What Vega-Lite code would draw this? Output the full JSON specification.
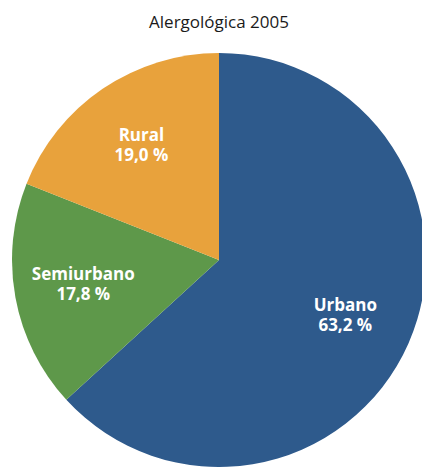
{
  "$schema": "https://vega.github.io/schema/vega-lite/v6.json",
  "width": 406,
  "height": 414,
  "autosize": "none",
  "padding": {"left": 16, "top": 53, "right": 0, "bottom": 0},
  "background": "white",
  "title": {"text": "Alergológica 2005", "font": "Open Sans", "fontSize": 17, "fontWeight": "normal", "color": "#1a1a1a", "offset": 21},
  "config": {"view": {"stroke": null}},
  "data": {"values": [
    {"category": "Urbano", "value": 63.2, "pct": "63,2 %"},
    {"category": "Semiurbano", "value": 17.8, "pct": "17,8 %"},
    {"category": "Rural", "value": 19.0, "pct": "19,0 %"}
  ]},
  "encoding": {
    "theta": {"field": "value", "type": "quantitative", "stack": true},
    "order": {"field": "category", "sort": "descending"}
  },
  "layer": [
    {
      "mark": {"type": "arc", "outerRadius": 207},
      "encoding": {
        "color": {"field": "category", "type": "nominal", "scale": {"domain": ["Urbano", "Semiurbano", "Rural"], "range": ["#2E5A8C", "#5E984A", "#E8A23C"]}, "legend": null}
      }
    },
    {
      "mark": {"type": "text", "radius": 138, "dy": -10, "font": "Open Sans", "fontSize": 17, "fontWeight": "bold", "fill": "white", "baseline": "middle"},
      "encoding": {"text": {"field": "category", "type": "nominal"}}
    },
    {
      "mark": {"type": "text", "radius": 138, "dy": 10, "font": "Open Sans", "fontSize": 17, "fontWeight": "bold", "fill": "white", "baseline": "middle"},
      "encoding": {"text": {"field": "pct", "type": "nominal"}}
    }
  ]
}
